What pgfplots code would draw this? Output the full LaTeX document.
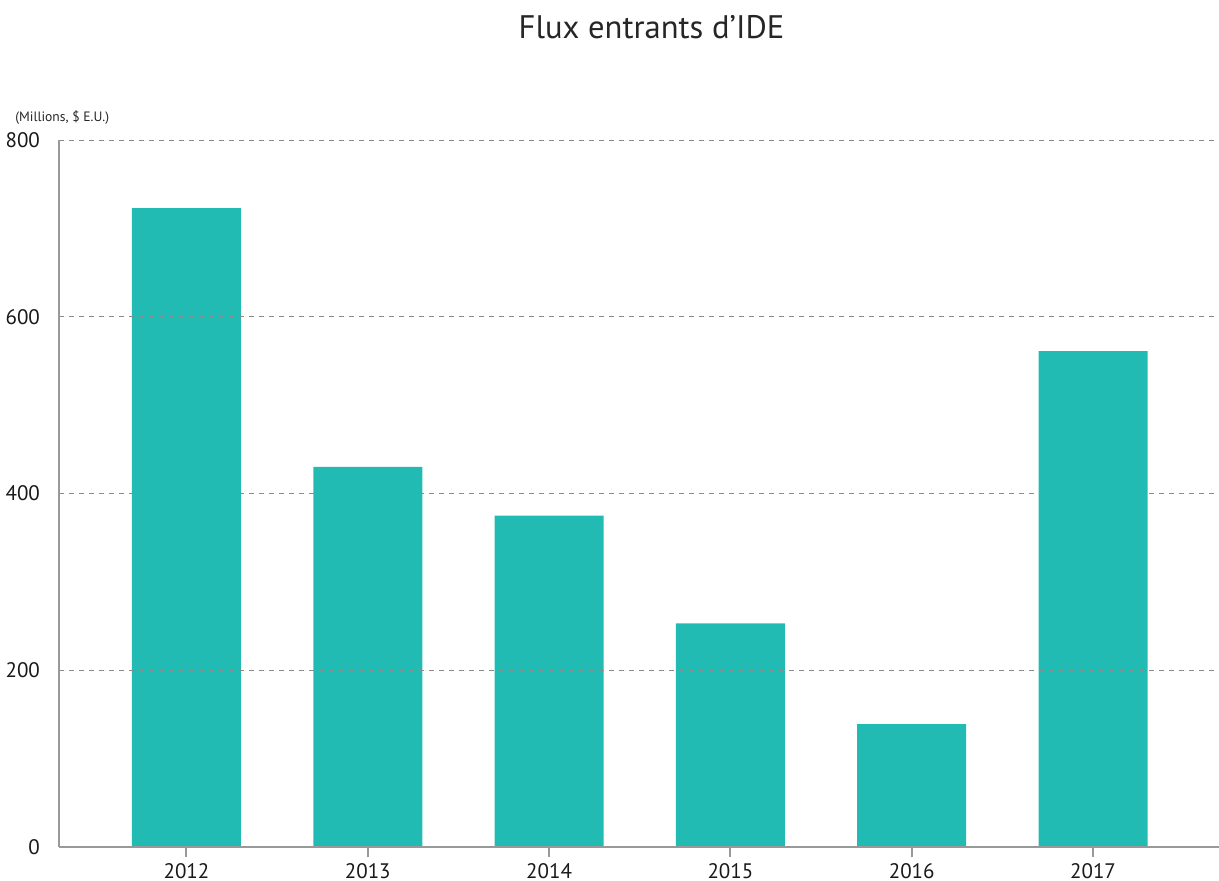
\documentclass[border=0pt]{standalone}
\usepackage{pgfplots}
\pgfplotsset{compat=1.18}
\usepackage{fontspec}
\setmainfont{PT Sans}
\definecolor{barc}{HTML}{22BBB4}
\definecolor{axc}{HTML}{999999}
\definecolor{gridc}{HTML}{8A8A8A}
\begin{document}
\begin{tikzpicture}
\clip (0,0) rectangle (609.5pt,440.5pt);
\path[use as bounding box] (0,0) rectangle (609.5pt,440.5pt);
\node[font=\fontsize{16.3}{19}\selectfont, text=black!85] at (325.75pt,427pt) {Flux entrants d’IDE};
\node[font=\fontsize{6.8}{8}\selectfont, anchor=west, inner sep=0pt, text=black!85] at (7.5pt,381.5pt) {(Millions, \$ E.U.)};
\begin{axis}[
  at={(29.5pt,17pt)}, anchor=south west,
  scale only axis, width=580pt, height=353.5pt,
  xmin=-0.703, xmax=5.695, ymin=0, ymax=800,
  axis x line=bottom, axis y line=left,
  axis line style={-, draw=axc, line width=1pt},
  xtick={0,1,2,3,4,5},
  xticklabels={2012,2013,2014,2015,2016,2017},
  ytick={0,200,400,600,800},
  ymajorgrids,
  grid style={gridc, dash pattern=on 2.5pt off 2.5pt, line width=0.5pt},
  axis on top,
  tick align=outside,
  major tick length=5pt,
  xtick style={draw=axc, line width=1pt},
  ytick style={draw=none},
  tick label style={font=\fontsize{10.5}{12}\selectfont, text=black!90},
  /pgf/number format/assume math mode=true,
  yticklabel style={xshift=-1pt},
  xticklabel style={yshift=0.5pt},
]
\addplot[ybar, bar width=54.5pt, fill=barc, draw=none] coordinates {
  (0,723) (1,430) (2,375) (3,253) (4,139) (5,561)
};
\end{axis}
\end{tikzpicture}
\end{document}
